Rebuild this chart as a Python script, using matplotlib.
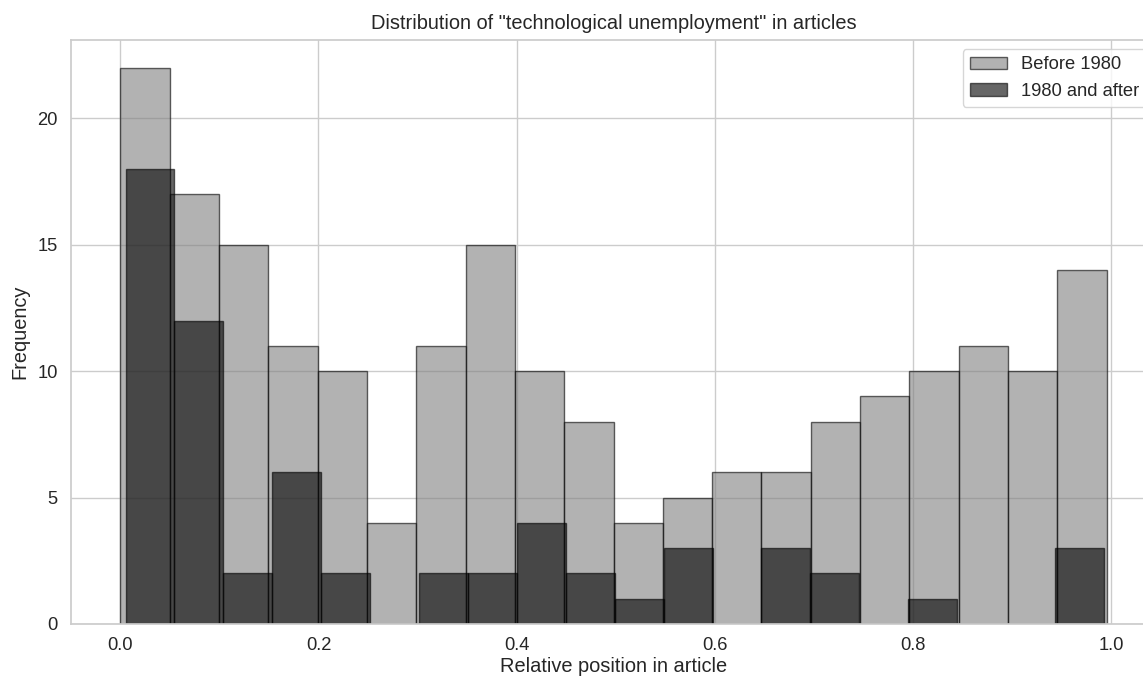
import numpy as np
import matplotlib.pyplot as plt
import seaborn as sns

# Histogram counts (20 bins) of relative mention position
before_counts = [22, 17, 15, 11, 10, 4, 11, 15, 10, 8, 4, 5, 6, 6, 8, 9, 10, 11, 10, 14]
after_counts = [18, 12, 2, 6, 2, 0, 2, 2, 4, 2, 1, 3, 0, 3, 2, 0, 1, 0, 0, 3]
# min / max of the positions in each group (bins span the data range)
before_range = (0.0, 0.9957)
after_range = (0.0053, 0.9929)
n_bins = 20

sns.set_theme(style='whitegrid', font_scale=1.2)
plt.rcParams['font.family'] = ['Liberation Sans', 'DejaVu Sans']

fig = plt.figure(figsize=(11.43, 6.79), dpi=100)
ax = fig.add_axes([71 / 1143, 55 / 679, 1085 / 1143, 584 / 679])

before_edges = np.linspace(before_range[0], before_range[1], n_bins + 1)
after_edges = np.linspace(after_range[0], after_range[1], n_bins + 1)

ax.hist(before_edges[:-1], bins=before_edges, weights=before_counts,
        color='gray', alpha=0.6, edgecolor='black', linewidth=1, label='Before 1980')
ax.hist(after_edges[:-1], bins=after_edges, weights=after_counts,
        color='black', alpha=0.6, edgecolor='black', linewidth=1, label='1980 and after')

ax.set_title('Distribution of "technological unemployment" in articles', pad=8)
ax.set_xlabel('Relative position in article', labelpad=2)
ax.set_ylabel('Frequency', labelpad=6)
ax.legend(loc='upper right')

plt.savefig('out.png', dpi=100)
